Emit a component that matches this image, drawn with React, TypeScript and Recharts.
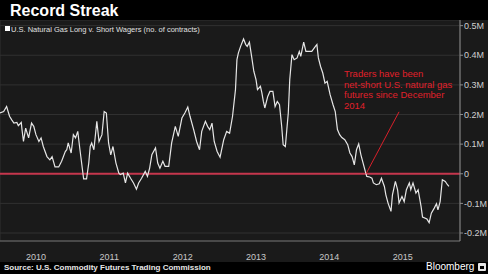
import { CartesianGrid, Line, LineChart, ReferenceLine, XAxis, YAxis } from 'recharts'

// weekly CFTC reading, as decimal years
const weekDates = [
  2010.01, 2010.06, 2010.1, 2010.14, 2010.17, 2010.2, 2010.24, 2010.26, 2010.3, 2010.31, 2010.33, 2010.36,
  2010.4, 2010.44, 2010.47, 2010.5, 2010.54, 2010.57, 2010.6, 2010.65, 2010.69, 2010.72, 2010.76, 2010.81,
  2010.85, 2010.9, 2010.92, 2010.94, 2010.98, 2011.01, 2011.04, 2011.07, 2011.1, 2011.15, 2011.19, 2011.22,
  2011.24, 2011.26, 2011.29, 2011.33, 2011.36, 2011.4, 2011.43, 2011.46, 2011.49, 2011.52, 2011.55, 2011.59,
  2011.63, 2011.65, 2011.69, 2011.72, 2011.75, 2011.79, 2011.83, 2011.87, 2011.9, 2011.94, 2011.99, 2012.02,
  2012.05, 2012.08, 2012.13, 2012.16, 2012.19, 2012.23, 2012.26, 2012.31, 2012.35, 2012.4, 2012.44, 2012.49,
  2012.53, 2012.57, 2012.6, 2012.65, 2012.69, 2012.73, 2012.76, 2012.81, 2012.84, 2012.87, 2012.9, 2012.93,
  2012.97, 2013.01, 2013.06, 2013.1, 2013.14, 2013.18, 2013.22, 2013.24, 2013.26, 2013.29, 2013.33, 2013.36,
  2013.38, 2013.41, 2013.44, 2013.47, 2013.5, 2013.52, 2013.56, 2013.58, 2013.6, 2013.62, 2013.66, 2013.69,
  2013.73, 2013.76, 2013.79, 2013.82, 2013.85, 2013.87, 2013.9, 2013.92, 2013.94, 2013.96, 2013.99, 2014.02,
  2014.06, 2014.09, 2014.11, 2014.15, 2014.18, 2014.21, 2014.26, 2014.31, 2014.33, 2014.35, 2014.38, 2014.41,
  2014.44, 2014.47, 2014.51, 2014.55, 2014.58, 2014.61, 2014.64, 2014.67, 2014.71, 2014.75, 2014.78, 2014.81,
  2014.84, 2014.87, 2014.9, 2014.93, 2014.96, 2014.99, 2015.01, 2015.05, 2015.08, 2015.1, 2015.14, 2015.18,
  2015.21, 2015.25, 2015.27, 2015.3, 2015.34, 2015.36, 2015.4, 2015.43, 2015.45, 2015.49, 2015.52, 2015.55,
  2015.59, 2015.61, 2015.64, 2015.68, 2015.71, 2015.75, 2015.77, 2015.83, 2015.86, 2015.89, 2015.93, 2015.96,
  2015.98, 2016.01, 2016.04, 2016.08, 2016.11, 2016.13,
]

// net long minus short, thousands of contracts
const netContracts = [
  205, 210, 227, 194, 182, 171, 173, 162, 173, 149, 109, 154,
  121, 171, 160, 132, 109, 121, 92, 58, 47, 58, 23, 23,
  42, 75, 81, 104, 70, 132, 121, 143, 81, -17, -17, 36,
  92, 104, 81, 177, 109, 132, 210, 205, 104, 64, 92, 37,
  2, -3, 2, -31, 2, -15, -31, -52, -31, -15, 8, -9,
  19, 64, 87, 36, 19, 42, 25, 25, 104, 160, 126, 188,
  205, 225, 194, 149, 109, 81, 143, 177, 160, 149, 171, 109,
  75, 56, 115, 143, 137, 194, 284, 385, 408, 430, 455, 436,
  430, 444, 396, 346, 318, 284, 295, 273, 244, 222, 261, 278,
  278, 227, 244, 233, 160, 98, 92, 149, 205, 318, 402, 385,
  391, 413, 396, 444, 413, 413, 413, 430, 436, 391, 362, 340,
  306, 312, 267, 233, 210, 149, 132, 122, 115, 98, 70, 58,
  30, 81, 101, 64, 36, 8, -9, -11, -15, -31, -37, -34,
  -15, -43, -71, -99, -127, -71, -26, -54, -99, -77, -94, -54,
  -31, -54, -31, -65, -54, -110, -146, -153, -165, -133, -116, -101,
  -122, -94, -20, -26, -37, -43,
]

const yearStarts = [2011, 2012, 2013, 2014, 2015, 2016]
const yearMids = [2010.5, 2011.5, 2012.5, 2013.5, 2014.5, 2015.5]
const valueTicks = [-200, -100, 0, 100, 200, 300, 400, 500]

const annotationLines = ['Traders have been', 'net-short U.S. natural gas', 'futures since December', '2014']

const data = weekDates.map((d, i) => ({ date: d, net: netContracts[i] }))

const FONT = '"Liberation Sans", Arial, sans-serif'
const X_DOMAIN: [number, number] = [2010.0136, 2016.2808]

const fmtValue = (v: number) => (v === 0 ? '0' : `${v / 1000}M`)

export default function App() {
  return (
    <div style={{ position: 'absolute', left: 0, top: 0, width: 488, height: 274, background: '#000', fontFamily: FONT, overflow: 'hidden' }}>
      <div style={{ position: 'absolute', left: 10, top: 3, fontSize: 16, lineHeight: '16px', fontWeight: 700, color: '#fff' }}>
        Record Streak
      </div>
      <div style={{ position: 'absolute', left: 0, top: 20, width: 488, height: 242, background: '#1a1a1a' }}>
        <LineChart width={488} height={242} data={data} margin={{ top: 0, right: 0, bottom: 0, left: 0 }}>
          <CartesianGrid xAxisId="grid" stroke="#303030" strokeWidth={1} />
          <XAxis
            xAxisId="grid"
            dataKey="date"
            type="number"
            domain={X_DOMAIN}
            ticks={yearStarts}
            height={1}
            tick={false}
            tickSize={21}
            tickLine={{ stroke: '#303030' }}
            axisLine={{ stroke: '#6e6e6e' }}
          />
          <XAxis
            xAxisId="labels"
            dataKey="date"
            type="number"
            domain={X_DOMAIN}
            ticks={yearMids}
            tickFormatter={(v: number) => String(Math.floor(v))}
            height={20}
            tickLine={false}
            axisLine={false}
            tickSize={4}
            tickMargin={8}
            tick={{ fill: '#c8c8c8', fontSize: 9, fontFamily: FONT }}
          />
          <YAxis
            orientation="right"
            width={28}
            domain={[-227, 519]}
            ticks={valueTicks}
            tickFormatter={fmtValue}
            tickSize={3}
            tickMargin={1}
            axisLine={{ stroke: '#8c8c8c' }}
            tickLine={{ stroke: '#8c8c8c' }}
            tick={{ fill: '#cfcfcf', fontSize: 9, fontFamily: FONT, textAnchor: 'start' }}
          />
          <ReferenceLine xAxisId="grid" y={0} stroke="#c5364d" strokeWidth={2} />
          <Line
            xAxisId="grid"
            type="linear"
            dataKey="net"
            stroke="#e6e6e6"
            strokeWidth={1.2}
            dot={false}
            isAnimationActive={false}
          />
          <ReferenceLine
            xAxisId="grid"
            segment={[
              { x: 2015.0, y: 0 },
              { x: 2015.45, y: 209 },
            ]}
            stroke="#d8202a"
            strokeWidth={1}
          />
        </LineChart>
        <div style={{ position: 'absolute', left: 5, top: 6, width: 5, height: 5, background: '#fff' }} />
        <div style={{ position: 'absolute', left: 11, top: 5.6, fontSize: 7.5, lineHeight: '8px', color: '#e0e0e0', whiteSpace: 'nowrap' }}>
          U.S. Natural Gas Long v. Short Wagers (no. of contracts)
        </div>
        <div style={{ position: 'absolute', left: 344, top: 49.2, fontSize: 9.5, lineHeight: '10.5px', color: '#e0202a', whiteSpace: 'nowrap' }}>
          {annotationLines.map((l) => (
            <div key={l}>{l}</div>
          ))}
        </div>
      </div>
      <div style={{ position: 'absolute', left: 4, top: 264, fontSize: 8, lineHeight: '8px', fontWeight: 700, color: '#e6e6e6', whiteSpace: 'nowrap' }}>
        Source: U.S. Commodity Futures Trading Commission
      </div>
      <div style={{ position: 'absolute', left: 426, top: 262, fontSize: 10, lineHeight: '10px', color: '#fff' }}>Bloomberg</div>
      <div style={{ position: 'absolute', left: 478, top: 263, width: 8, height: 8, background: '#e6e6e6', borderRadius: 1 }}>
        <div style={{ position: 'absolute', left: 2, top: 3, width: 4, height: 3, background: '#000' }} />
      </div>
    </div>
  )
}
